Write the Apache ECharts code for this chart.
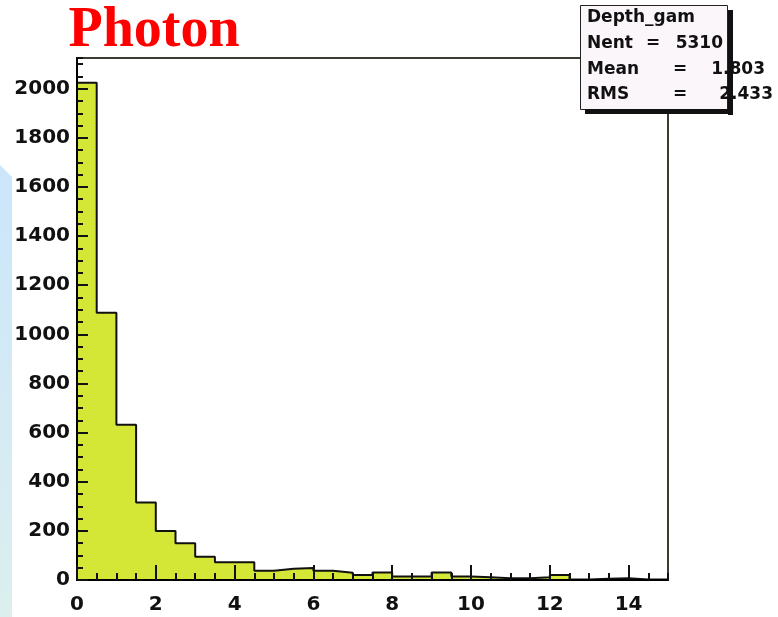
<!DOCTYPE html>
<html>
<head>
<meta charset="utf-8">
<title>Photon - Depth_gam</title>
<script src="https://cdn.jsdelivr.net/npm/echarts@6/dist/echarts.min.js"></script>
<style>
  html, body { margin: 0; padding: 0; background: #ffffff; }
  #chart { width: 778px; height: 617px; }
</style>
</head>
<body>
<div id="chart"></div>
<script>
// Histogram bin edges (0.5 wide) and entries per bin
const binEdges = [0, 0.5, 1, 1.5, 2, 2.5, 3, 3.5, 4, 4.5, 5, 5.5, 6, 6.5, 7, 7.5,
                  8, 8.5, 9, 9.5, 10, 10.5, 11, 11.5, 12, 12.5, 13, 13.5, 14, 14.5, 15];
const counts = [2024, 1088, 632, 316, 199, 150, 95, 72, 72, 38, 46, 49, 38, 30, 20,
                31, 14, 14, 31, 14, 11, 7, 7, 11, 20, 2, 5, 7, 2, 2];

// Statistics box rows
const statTitle = 'Depth_gam';
const statNames = ['Nent', 'Mean', 'RMS'];
const statValues = ['5310', '1.803', '2.433'];

const xRange = [0, 15];
const yRange = [0, 2125];

// Step outline of the histogram, closed down to zero at both ends
const stepData = [[binEdges[0], 0]];
for (let i = 0; i < counts.length; i++) stepData.push([binEdges[i], counts[i]]);
stepData.push([binEdges[binEdges.length - 1], counts[counts.length - 1]]);
stepData.push([binEdges[binEdges.length - 1], 0]);

const labelFont = { fontFamily: 'DejaVu Sans', fontWeight: 'bold', fontSize: 20, color: '#111' };
const boxFont = 'bold 17px "DejaVu Sans"';
const plainNumber = v => String(v);

const chart = echarts.init(document.getElementById('chart'), null, { renderer: 'canvas' });

// text rows evenly spaced inside the statistics box
const statTitleY = 18;
const statRowsY = [44, 69.5, 95];
const eqX = [653, 680, 680];
const valRight = [723, 765, 773];
const statTexts = [];
statTexts.push({ type: 'text', x: 587, y: statTitleY, z: 20,
  style: { text: statTitle, font: boxFont, fill: '#111', verticalAlign: 'middle', align: 'left' } });
for (let i = 0; i < statNames.length; i++) {
  statTexts.push({ type: 'text', x: 587, y: statRowsY[i], z: 20,
    style: { text: statNames[i], font: boxFont, fill: '#111', verticalAlign: 'middle', align: 'left' } });
  statTexts.push({ type: 'text', x: eqX[i], y: statRowsY[i], z: 20,
    style: { text: '=', font: boxFont, fill: '#111', verticalAlign: 'middle', align: 'center' } });
  statTexts.push({ type: 'text', x: valRight[i], y: statRowsY[i], z: 20,
    style: { text: statValues[i], font: boxFont, fill: '#111', verticalAlign: 'middle', align: 'right' } });
}

const option = {
  backgroundColor: '#ffffff',
  animation: false,
  grid: {
    left: 77, right: 110, top: 58, bottom: 37,
    show: true, borderColor: '#3b3b33', borderWidth: 2, backgroundColor: 'transparent'
  },
  xAxis: [
    {
      type: 'value', min: xRange[0], max: xRange[1], interval: 2, position: 'bottom', z: 5,
      axisLine: { show: true, onZero: false, lineStyle: { color: '#000', width: 2 } },
      axisTick: { show: true, inside: true, length: 15, lineStyle: { color: '#111', width: 2 } },
      axisLabel: Object.assign({ margin: 15, showMaxLabel: false, formatter: plainNumber }, labelFont),
      splitLine: { show: false }
    },
    {
      type: 'value', min: xRange[0], max: xRange[1], interval: 0.5, position: 'bottom', offset: 0, z: 5,
      axisLine: { show: false },
      axisTick: { show: true, inside: true, length: 7, lineStyle: { color: '#111', width: 2 } },
      axisLabel: { show: false },
      splitLine: { show: false }
    }
  ],
  yAxis: [
    {
      type: 'value', min: yRange[0], max: yRange[1], interval: 200, position: 'left', z: 5,
      axisLine: { show: true, onZero: false, lineStyle: { color: '#000', width: 2 } },
      axisTick: { show: true, inside: true, length: 11, lineStyle: { color: '#111', width: 2 } },
      axisLabel: Object.assign({ margin: 7, showMaxLabel: false, formatter: plainNumber }, labelFont),
      splitLine: { show: false }
    },
    {
      type: 'value', min: yRange[0], max: yRange[1], interval: 50, position: 'left', offset: 0, z: 5,
      axisLine: { show: false },
      axisTick: { show: true, inside: true, length: 6, lineStyle: { color: '#111', width: 2 } },
      axisLabel: { show: false },
      splitLine: { show: false }
    }
  ],
  series: [
    {
      type: 'line',
      xAxisIndex: 0, yAxisIndex: 0,
      step: 'end',
      data: stepData,
      symbol: 'none',
      z: 2,
      lineStyle: { color: '#111', width: 2 },
      areaStyle: { color: '#d5e736', opacity: 1 }
    }
  ],
  graphic: [
    // pale blue band at the left edge
    {
      type: 'polygon', z: -10, silent: true,
      shape: { points: [[0, 165], [12, 177], [12, 617], [0, 617]] },
      style: {
        fill: new echarts.graphic.LinearGradient(0, 0, 0, 1, [
          { offset: 0, color: '#cbe6fb' },
          { offset: 1, color: '#dcefee' }
        ])
      }
    },
    // title
    {
      type: 'text', x: 154, y: 32, z: 20,
      style: {
        text: 'Photon', font: 'bold 56px "Liberation Serif"', fill: '#ff0000',
        align: 'center', verticalAlign: 'middle'
      }
    },
    // statistics box
    {
      type: 'rect', z: 15,
      shape: { x: 580.5, y: 5.5, width: 147, height: 104 },
      style: { fill: '#fbf6fa', stroke: '#222', lineWidth: 1 }
    },
    ...statTexts,
    {
      type: 'rect', z: 25,
      shape: { x: 728, y: 10, width: 5, height: 105 },
      style: { fill: '#111' }
    },
    {
      type: 'rect', z: 25,
      shape: { x: 585, y: 109, width: 148, height: 5 },
      style: { fill: '#111' }
    }
  ]
};

chart.setOption(option);
</script>
</body>
</html>
